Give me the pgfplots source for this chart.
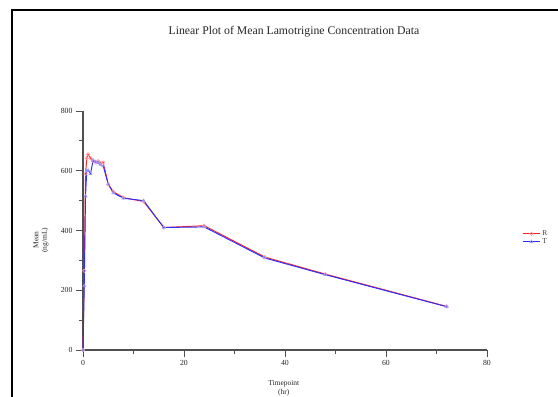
\documentclass[border=0pt]{standalone}
\usepackage{fontspec}
\setmainfont{Liberation Serif}
\usepackage{pgfplots}
\pgfplotsset{compat=1.18}
\definecolor{axgray}{RGB}{80,80,80}
\definecolor{sred}{RGB}{255,30,30}
\definecolor{sblue}{RGB}{45,45,255}
\begin{document}
\begin{tikzpicture}
\path[use as bounding box] (-83bp,-47bp) rectangle (475bp,350bp);
\draw[line width=1.6bp, black] (-71bp,-48bp) -- (-71bp,340bp) -- (476bp,340bp);
\node[font=\fontsize{11.8}{13}\selectfont, text=black!85] at (211bp,318bp) {Linear Plot of Mean Lamotrigine Concentration Data};
\begin{axis}[
  at={(0,0)}, anchor=south west,
  scale only axis, width=404bp, height=239bp,
  xmin=0, xmax=80, ymin=0, ymax=800,
  axis lines*=left,
  axis line style={axgray, line width=1.1bp},
  clip=false,
  xtick={0,20,...,80}, minor xtick={10,30,50,70},
  ytick={0,200,...,800}, minor ytick={100,300,500,700},
  tick align=outside,
  major tick length=7bp, minor tick length=4bp,
  tick style={axgray, line width=0.8bp},
  /pgf/number format/assume math mode=true,
  ticklabel style={font=\fontsize{7.8}{8}\selectfont, text=black!85},
  xlabel={Timepoint\\(hr)},
  ylabel={Mean\\(ng/mL)},
  xlabel style={align=center, font=\fontsize{7.5}{8.5}\selectfont, text=black!85, at={(axis description cs:0.497,-0.115)}, anchor=north},
  ylabel style={align=center, font=\fontsize{7.5}{8.5}\selectfont, text=black!85, at={(axis description cs:-0.104,0.46)}, anchor=center},
  legend style={draw=none, fill=none, at={(rel axis cs:1.08,0.47)}, anchor=west, font=\fontsize{7.5}{8}\selectfont, row sep=-2.5pt, text=black!75},
  legend cell align=left,
]
\addplot[sred, line width=0.95bp, mark=o, mark size=1.7bp, mark options={red!40, line width=0.6bp}] coordinates {
(0,0) (0.25,265) (0.5,590) (0.75,642) (1,655) (1.5,642) (2,632) (2.5,628) (3,632) (3.5,626) (4,628) (5,555) (6,530) (8,510) (12,497) (16,410) (24,416) (36,311) (48,254) (72,146)
};
\addplot[sblue, line width=0.95bp, mark=triangle, mark size=1.7bp, mark options={blue!40, line width=0.6bp}] coordinates {
(0,0) (0.25,215) (0.5,515) (0.75,600) (1,602) (1.5,590) (2,636) (2.5,630) (3,626) (3.5,620) (4,616) (5,555) (6,526) (8,508) (12,500) (16,410) (24,412) (36,308) (48,252) (72,145)
};
\legend{R,T}
\end{axis}
\end{tikzpicture}
\end{document}
